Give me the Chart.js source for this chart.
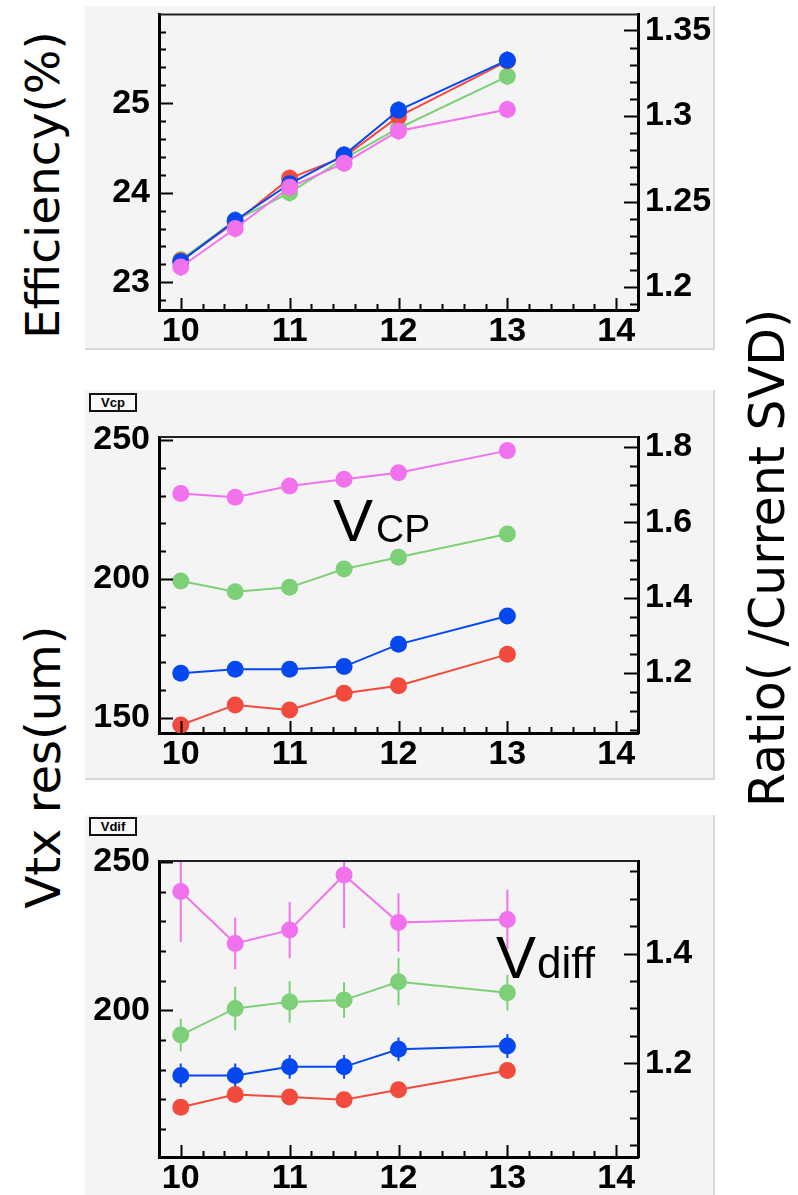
<!DOCTYPE html>
<html>
<head>
<meta charset="utf-8">
<script src="https://cdn.jsdelivr.net/npm/chart.js@4.4.1/dist/chart.umd.min.js"></script>
<style>
  body { margin: 0; background: #fff; width: 798px; height: 1195px; position: relative; overflow: hidden; }
  .panel { position: absolute; left: 85px; width: 628px; background: #f4f4f4;
           border-right: 2px solid #d8d8d8; border-bottom: 2px solid #d8d8d8; }
  .panel canvas { display: block; position: absolute; left: 0; top: 0; }
  .tag { position: absolute; left: 4px; width: 44px; text-align: center; border: 2px solid #111; background: #f8f8f8;
         font: bold 13px "Liberation Sans", sans-serif; height: 15px; line-height: 15px; }
  .side { position: absolute; font-family: "DejaVu Sans", sans-serif; white-space: pre; line-height: 1;
          color: #000; transform: translate(-50%, -50%) rotate(-90deg); }
</style>
</head>
<body>
<div class="panel" style="top:6px;height:342px"><canvas id="eff" width="628" height="342"></canvas></div>
<div class="panel" style="top:390px;height:388px"><canvas id="vcp" width="628" height="388"></canvas><div class="tag" style="top:3px">Vcp</div></div>
<div class="panel" style="top:815px;height:380px"><canvas id="vdif" width="628" height="380"></canvas><div class="tag" style="top:2px">Vdif</div></div>

<div class="side" style="left:42px;top:185px;font-size:47px">Efficiency(%)</div>
<div class="side" style="left:43px;top:767px;font-size:48px">Vtx res(um)</div>
<div class="side" style="left:767px;top:558px;font-size:49px">Ratio( /Current SVD)</div>

<script>
const energies = [10, 10.5, 11, 11.5, 12, 13];
const xTicks = [10, 11, 12, 13, 14];

// efficiency (%)
const effRed     = [23.24, 23.67, 24.16, 24.40, 24.85, 25.47];
const effBlue    = [23.23, 23.69, 24.10, 24.42, 24.92, 25.48];
const effGreen   = [23.25, 23.69, 24.00, 24.38, 24.72, 25.30];
const effMagenta = [23.17, 23.60, 24.06, 24.33, 24.69, 24.93];
const effErr     = [0.10, 0.10, 0.10, 0.10, 0.10, 0.10];
const effTicks = [23, 24, 25];
const effRatioTicks = [1.2, 1.25, 1.3, 1.35];

// Vcp resolution (um)
const vcpRed     = [147.5, 154.7, 152.9, 158.9, 161.6, 172.9];
const vcpBlue    = [166.1, 167.5, 167.5, 168.5, 176.5, 186.7];
const vcpGreen   = [199.3, 195.4, 197.0, 203.6, 207.8, 216.2];
const vcpMagenta = [230.8, 229.4, 233.5, 235.9, 238.2, 246.2];
const vcpTicks = [150, 200, 250];
const vcpRatioTicks = [1.2, 1.4, 1.6, 1.8];

// Vdiff resolution (um)
const vdifRed        = [167.3, 171.6, 170.7, 169.8, 173.2, 179.7];
const vdifRedErr     = [2.5, 2.5, 2.5, 2.5, 2.5, 2.5];
const vdifBlue       = [178.0, 178.0, 180.9, 180.9, 186.8, 187.9];
const vdifBlueErr    = [4, 4, 4, 4, 4, 4];
const vdifGreen      = [191.6, 200.6, 202.8, 203.4, 209.6, 205.9];
const vdifGreenErr   = [5.5, 7.3, 7, 6, 8, 6];
const vdifMagenta    = [240.0, 222.5, 227.0, 245.6, 229.6, 230.6];
const vdifMagentaErr = [17, 8.7, 9.5, 18, 9.8, 10];
const vdifTicks = [200, 250];
const vdifRatioTicks = [1.2, 1.4];

const RED = '#f24a3c', BLUE = '#0648f0', GREEN = '#7dd078', MAGENTA = '#f272ee';

Chart.defaults.font = { family: '"Liberation Sans", Arial, sans-serif', size: 34, weight: 'bold' };
Chart.defaults.color = '#000';

function series(vals, errs, color, order) {
  return {
    data: energies.map((x, i) => ({ x, y: vals[i] })),
    errors: errs,
    borderColor: color, backgroundColor: color,
    pointBackgroundColor: color, pointBorderWidth: 0, pointRadius: 8.5,
    borderWidth: 2, tension: 0, order
  };
}

const errorBars = {
  id: 'errorBars',
  beforeDatasetsDraw(chart) {
    const { ctx, chartArea: a } = chart;
    const ys = chart.scales.y;
    ctx.save();
    ctx.beginPath();
    ctx.rect(a.left, a.top, a.right - a.left, a.bottom - a.top);
    ctx.clip();
    chart.data.datasets.forEach((ds, i) => {
      if (!ds.errors) return;
      ctx.strokeStyle = ds.borderColor;
      ctx.lineWidth = 2;
      chart.getDatasetMeta(i).data.forEach((pt, j) => {
        const v = ds.data[j].y, e = ds.errors[j];
        ctx.beginPath();
        ctx.moveTo(pt.x, ys.getPixelForValue(v - e));
        ctx.lineTo(pt.x, ys.getPixelForValue(v + e));
        ctx.stroke();
      });
    });
    ctx.restore();
  }
};

// ROOT style ticks pointing into the frame, plus the thin top frame line
function innerTicks(specs) {
  return {
    id: 'innerTicks',
    afterDraw(chart) {
      const { ctx, chartArea: a } = chart;
      ctx.save();
      ctx.strokeStyle = '#222';
      ctx.lineWidth = 2;
      ctx.beginPath(); ctx.moveTo(a.left, a.top); ctx.lineTo(a.right, a.top); ctx.stroke();
      ctx.strokeStyle = '#000';
      specs.forEach(sp => {
        const s = chart.scales[sp.id];
        const n0 = Math.ceil(s.min / sp.minor - 1e-6), n1 = Math.floor(s.max / sp.minor + 1e-6);
        for (let n = n0; n <= n1; n++) {
          const v = n * sp.minor;
          const major = sp.major.some(m => Math.abs(m - v) < sp.minor / 10);
          const len = major ? sp.long : sp.short;
          const p = Math.round(s.getPixelForValue(v)) + 0.5;
          ctx.beginPath();
          if (sp.id === 'x') { ctx.moveTo(p, a.bottom); ctx.lineTo(p, a.bottom - len); }
          else if (sp.id === 'y') { ctx.moveTo(a.left, p); ctx.lineTo(a.left + len, p); }
          else { ctx.moveTo(a.right, p); ctx.lineTo(a.right - len, p); }
          ctx.stroke();
        }
      });
      ctx.restore();
    }
  };
}

function notes(list) {
  return {
    id: 'notes',
    afterDraw(chart) {
      const ctx = chart.ctx;
      ctx.save();
      ctx.fillStyle = '#000';
      ctx.textBaseline = 'alphabetic';
      list.forEach(n => {
        ctx.font = n.size + 'px "Liberation Sans", Arial, sans-serif';
        ctx.fillText(n.text, n.x, n.y);
      });
      ctx.restore();
    }
  };
}

// fixed axis size, no extra room asked for the end labels
function fitTo(dim, size) {
  return s => {
    s[dim] = size;
    s.paddingTop = 0; s.paddingBottom = 0; s.paddingLeft = 0; s.paddingRight = 0;
  };
}

function makePanel(id, p) {
  const fixed = ticks => s => { s.ticks = ticks.map(v => ({ value: v })); };
  return new Chart(document.getElementById(id), {
    type: 'line',
    data: { datasets: p.sets },
    options: {
      responsive: false, animation: false, events: [],
      layout: { padding: { top: p.top, left: 0, right: 0, bottom: 0 } },
      plugins: { legend: { display: false }, tooltip: { enabled: false } },
      scales: {
        x: {
          type: 'linear', min: 9.8, max: 14.2,
          grid: { display: false, drawTicks: false }, border: { color: '#000', width: 3 },
          afterBuildTicks: fixed(xTicks), afterFit: fitTo('height', p.xh),
          ticks: { padding: 1, autoSkip: false, maxRotation: 0, callback: v => String(v) }
        },
        y: {
          position: 'left', min: p.yMin, max: p.yMax,
          grid: { display: false, drawTicks: false }, border: { color: '#000', width: 3 },
          afterBuildTicks: fixed(p.yTicks), afterFit: fitTo('width', 74),
          ticks: { padding: 9, autoSkip: false, callback: v => String(v) }
        },
        y2: {
          position: 'right', min: p.rMin, max: p.rMax,
          grid: { display: false, drawTicks: false }, border: { color: '#000', width: 3 },
          afterBuildTicks: fixed(p.rTicks), afterFit: fitTo('width', 75),
          ticks: { padding: 7, autoSkip: false, callback: v => String(v) }
        }
      }
    },
    plugins: [errorBars, innerTicks([
      { id: 'x', minor: 0.2, major: xTicks, long: 12, short: 6 },
      { id: 'y', minor: p.yMinor, major: p.yTicks, long: 14, short: 7 },
      { id: 'y2', minor: p.rMinor, major: p.rTicks, long: 14, short: 8 }
    ]), notes(p.notes)]
  });
}

makePanel('eff', {
  sets: [series(effRed, effErr, RED, 2), series(effBlue, effErr, BLUE, 1),
         series(effGreen, effErr, GREEN, 3), series(effMagenta, effErr, MAGENTA, 0)],
  top: 8, xh: 38,
  yMin: 22.69, yMax: 25.99, yTicks: effTicks, yMinor: 0.2,
  rMin: 1.1866, rMax: 1.3593, rTicks: effRatioTicks, rMinor: 0.01,
  notes: []
});

makePanel('vcp', {
  sets: [series(vcpRed, null, RED, 2), series(vcpBlue, null, BLUE, 1),
         series(vcpGreen, null, GREEN, 3), series(vcpMagenta, null, MAGENTA, 0)],
  top: 47, xh: 45,
  yMin: 144.6, yMax: 251.1, yTicks: vcpTicks, yMinor: 10,
  rMin: 1.041, rMax: 1.8266, rTicks: vcpRatioTicks, rMinor: 0.05,
  notes: [{ text: 'V', x: 248, y: 151, size: 60 }, { text: 'CP', x: 291, y: 152, size: 39 }]
});

makePanel('vdif', {
  sets: [series(vdifRed, vdifRedErr, RED, 2), series(vdifBlue, vdifBlueErr, BLUE, 1),
         series(vdifGreen, vdifGreenErr, GREEN, 3), series(vdifMagenta, vdifMagentaErr, MAGENTA, 0)],
  top: 46, xh: 38,
  yMin: 150.5, yMax: 250.3, yTicks: vdifTicks, yMinor: 10,
  rMin: 1.029, rMax: 1.569, rTicks: vdifRatioTicks, rMinor: 0.05,
  notes: [{ text: 'V', x: 411, y: 163, size: 60 }, { text: 'diff', x: 452, y: 163, size: 44 }]
});
</script>
</body>
</html>
